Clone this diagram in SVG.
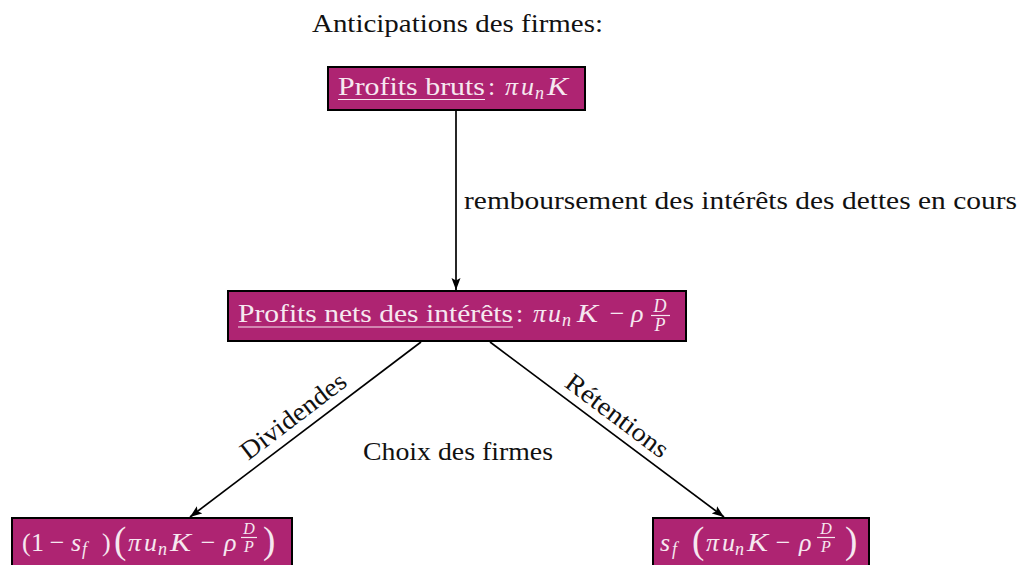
<svg xmlns="http://www.w3.org/2000/svg" width="1021" height="565" viewBox="0 0 1021 565" font-family="'Liberation Serif', 'DejaVu Serif', serif">
<style>
text{font-family:"Liberation Serif","DejaVu Serif",serif}
.box{fill:#AE2472;stroke:#000;stroke-width:2}
.t{font-size:26px;fill:#111}
.w{font-size:26px;fill:#f6e8f0}
.m{font-style:italic}
.s{font-size:18px}
.fr{font-size:16px}
.bp{font-size:37px}
.ul{stroke:#f6e8f0;stroke-width:1.2}
.fb{stroke:#f6e8f0;stroke-width:1.2}
.edge{stroke:#000;stroke-width:1.7;fill:none}
</style>
<defs>
<marker id="ah" markerUnits="userSpaceOnUse" markerWidth="13" markerHeight="10" refX="12" refY="5" orient="auto">
<path d="M0,0.5 L12,5 L0,9.5 L2.5,5 Z" fill="#000"/>
</marker>
</defs>
<rect width="1021" height="565" fill="#fff"/>

<text class="t" x="312" y="32" textLength="291" lengthAdjust="spacingAndGlyphs">Anticipations des firmes:</text>
<text class="t" x="363" y="460" textLength="190" lengthAdjust="spacingAndGlyphs">Choix des firmes</text>

<g id="connectors">
<line class="edge" x1="456" y1="110" x2="456" y2="290" marker-end="url(#ah)"/>
<line class="edge" x1="421" y1="342" x2="190" y2="517" marker-end="url(#ah)"/>
<line class="edge" x1="490" y1="342" x2="724" y2="517" marker-end="url(#ah)"/>
<text class="t" x="464" y="209" textLength="553" lengthAdjust="spacingAndGlyphs">remboursement des intérêts des dettes en cours</text>
<text class="t" text-anchor="middle" transform="translate(298.4,422.9) rotate(-37.3)" textLength="126" lengthAdjust="spacingAndGlyphs">Dividendes</text>
<text class="t" text-anchor="middle" transform="translate(612.1,422.5) rotate(36.95)" textLength="122" lengthAdjust="spacingAndGlyphs">Rétentions</text>
</g>

<g id="n-bruts">
<rect class="box" x="328" y="67" width="257" height="43"/>
<text class="w" x="338" y="95" textLength="147" lengthAdjust="spacingAndGlyphs">Profits bruts</text>
<line class="ul" x1="338" y1="99.5" x2="485" y2="99.5"/>
<text class="w" x="488" y="95">:</text>
<text class="w m" x="505" y="95">π</text>
<text class="w m" x="521" y="95">u</text>
<text class="w m s" x="535" y="99">n</text>
<text class="w m" x="547" y="95" textLength="21" lengthAdjust="spacingAndGlyphs">K</text>
</g>

<g id="n-nets">
<rect class="box" x="228" y="291" width="458" height="50"/>
<text class="w" x="238" y="322" textLength="275" lengthAdjust="spacingAndGlyphs">Profits nets des intérêts</text>
<line class="ul" x1="238" y1="327" x2="513" y2="327"/>
<text class="w" x="516" y="322">:</text>
<text class="w m" x="533" y="322">π</text>
<text class="w m" x="548" y="322">u</text>
<text class="w m s" x="562" y="326">n</text>
<text class="w m" x="577" y="322" textLength="21" lengthAdjust="spacingAndGlyphs">K</text>
<text class="w" x="617" y="322" text-anchor="middle">−</text>
<text class="w m" x="631" y="322">ρ</text>
<text class="w m s" x="660" y="311.5" text-anchor="middle">D</text>
<line class="fb" x1="651" y1="315.5" x2="670" y2="315.5"/>
<text class="w m s" x="660" y="331" text-anchor="middle">P</text>
</g>

<g id="n-dividendes">
<rect class="box" x="12" y="518" width="280" height="52"/>
<text class="w" x="22" y="551">(</text>
<text class="w" x="31" y="551">1</text>
<text class="w" x="57" y="551" text-anchor="middle">−</text>
<text class="w m" x="71" y="551">s</text>
<text class="w m s" x="82" y="555" font-size="19">f</text>
<text class="w" x="102" y="551">)</text>
<text class="w bp" x="114" y="553">(</text>
<text class="w m" x="128" y="551">π</text>
<text class="w m" x="144" y="551">u</text>
<text class="w m s" x="158" y="555">n</text>
<text class="w m" x="170" y="551" textLength="21" lengthAdjust="spacingAndGlyphs">K</text>
<text class="w" x="208" y="551" text-anchor="middle">−</text>
<text class="w m" x="224" y="551">ρ</text>
<text class="w m fr" x="249" y="533.5" text-anchor="middle">D</text>
<line class="fb" x1="241" y1="537.5" x2="257" y2="537.5"/>
<text class="w m fr" x="249" y="551.5" text-anchor="middle">P</text>
<text class="w bp" x="263" y="553">)</text>
</g>

<g id="n-retentions">
<rect class="box" x="653" y="518" width="216" height="52"/>
<text class="w m" x="660" y="551">s</text>
<text class="w m s" x="672" y="555" font-size="19">f</text>
<text class="w bp" x="692" y="553">(</text>
<text class="w m" x="706" y="551">π</text>
<text class="w m" x="722" y="551">u</text>
<text class="w m s" x="735" y="555">n</text>
<text class="w m" x="747" y="551" textLength="21" lengthAdjust="spacingAndGlyphs">K</text>
<text class="w" x="783" y="551" text-anchor="middle">−</text>
<text class="w m" x="799" y="551">ρ</text>
<text class="w m fr" x="826" y="533.5" text-anchor="middle">D</text>
<line class="fb" x1="817" y1="537.5" x2="835" y2="537.5"/>
<text class="w m fr" x="826" y="551.5" text-anchor="middle">P</text>
<text class="w bp" x="845" y="553">)</text>
</g>
</svg>
